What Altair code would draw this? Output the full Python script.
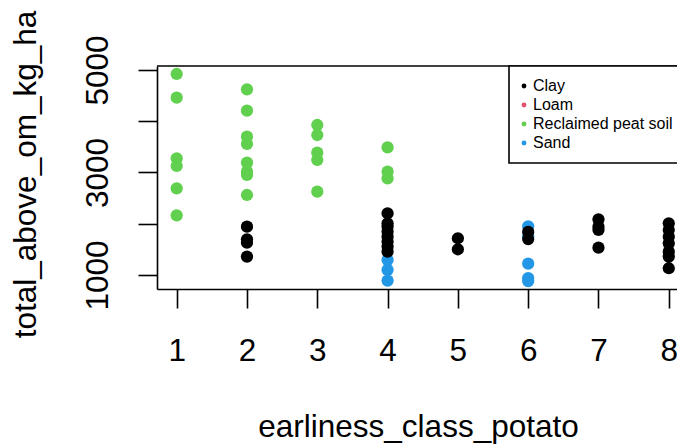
import altair as alt
import pandas as pd

soils = ["Clay", "Loam", "Reclaimed peat soil", "Sand"]
soil_colors = ["#000000", "#DF536B", "#61D04F", "#2297E6"]

sand_x = [4, 4, 4, 6, 6, 6, 6, 6]
sand_y = [1293, 1098, 890, 1950, 1760, 1220, 940, 880]

clay_x = [2, 2, 2, 2, 4, 4, 4, 4, 4, 4, 4, 4, 5, 5, 6, 6, 7, 7, 7, 7, 8, 8, 8, 8, 8, 8, 8]
clay_y = [1943, 1696, 1630, 1358, 2204, 2009, 1943, 1845, 1748, 1650, 1553, 1455,
          1716, 1501, 1840, 1700, 2087, 1943, 1878, 1533,
          2009, 1878, 1747, 1618, 1455, 1358, 1131]

peat_x = [1, 1, 1, 1, 1, 1, 2, 2, 2, 2, 2, 2, 2, 2, 3, 3, 3, 3, 3, 4, 4, 4]
peat_y = [4922, 4460, 3277, 3127, 2691, 2164,
          4623, 4206, 3699, 3556, 3191, 3016, 2951, 2561,
          3927, 3731, 3387, 3244, 2626,
          3491, 3016, 2886]

x_ticks = [1, 2, 3, 4, 5, 6, 7, 8]
y_ticks = [1000, 2000, 3000, 4000, 5000]

rows = []
for xs, ys, s in [(sand_x, sand_y, "Sand"), (clay_x, clay_y, "Clay"), (peat_x, peat_y, "Reclaimed peat soil")]:
    for a, b in zip(xs, ys):
        rows.append({"earliness_class_potato": a, "total_above_om_kg_ha": b, "soil": s})
df = pd.DataFrame(rows)
df["order"] = range(len(df))

FONT = "Liberation Sans"
W, H = 520, 223
LW = 1.6
FS = 31.5

points = alt.Chart(df).mark_circle(size=150, opacity=1).encode(
    x=alt.X("earliness_class_potato:Q",
            scale=alt.Scale(domain=[0.72, 8.117], nice=False, zero=False),
            axis=alt.Axis(values=x_ticks, title="earliness_class_potato",
                          labelAlign="center", labelBaseline="alphabetic",
                          labelPadding=52, titleX=261, titleY=147.5,
                          titleAlign="center", titleBaseline="alphabetic")),
    y=alt.Y("total_above_om_kg_ha:Q",
            scale=alt.Scale(domain=[726, 5078], nice=False, zero=False),
            axis=alt.Axis(values=y_ticks, format="d", title="total_above_om_kg_ha",
                          labelExpr="(datum.value == 2000 || datum.value == 4000) ? '' : datum.label",
                          labelAngle=270, labelAlign="center", labelBaseline="middle",
                          labelPadding=39.5, titleAngle=270, titleX=-122, titleY=108,
                          titleAlign="center", titleBaseline="alphabetic")),
    color=alt.Color("soil:N",
                    scale=alt.Scale(domain=soils, range=soil_colors),
                    legend=alt.Legend(orient="none", legendX=352, legendY=0, title=None,
                                      padding=12, strokeColor="black", fillColor="white",
                                      symbolType="circle", symbolSize=24,
                                      symbolStrokeWidth=0, symbolOpacity=1,
                                      symbolOffset=-5,
                                      labelFont=FONT, labelFontSize=16, labelColor="black",
                                      labelOffset=1, rowPadding=3)),
    order=alt.Order("order:Q"),
)

top_line = alt.Chart(pd.DataFrame({"k": [0]})).mark_rule(color="black", strokeWidth=LW).encode(
    x=alt.value(0), x2=alt.value(W), y=alt.value(0)
)

chart = alt.layer(points, top_line).properties(
    width=W, height=H,
    autosize=alt.AutoSizeParams(type="none"),
    padding={"left": 149, "top": 58, "right": 0, "bottom": 155},
).configure_view(stroke=None).configure_axis(
    grid=False,
    domain=True, domainColor="black", domainWidth=LW,
    ticks=True, tickColor="black", tickWidth=LW, tickSize=19,
    labelFont=FONT, labelFontSize=FS, labelColor="black",
    titleFont=FONT, titleFontSize=FS, titleFontWeight="normal", titleColor="black",
).configure_legend(strokeWidth=LW)

chart.save("out.html", embed_options={"renderer": "svg", "actions": False})
